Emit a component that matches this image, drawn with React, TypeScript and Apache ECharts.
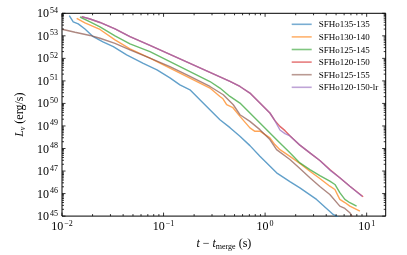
import React, { useEffect, useRef } from 'react';
import * as echarts from 'echarts';

const seriesNames = ['SFHo135-135', 'SFHo130-140', 'SFHo125-145', 'SFHo120-150', 'SFHo125-155', 'SFHo120-150-lr'];
const seriesColors = ['#1f77b4', '#ff7f0e', '#2ca02c', '#d62728', '#8c564b', '#9467bd'];

// [t - t_merge (s), L_nu (erg/s)]
const sfho135_135: [number, number][] = [
  [0.0118, 7.8e53], [0.0129, 4.2e53], [0.01445, 3.4e53], [0.01683, 2.0e53], [0.0203, 9.2e52],
  [0.0253, 5.4e52], [0.032, 3.3e52], [0.0433, 1.43e52], [0.0631, 6.0e51], [0.0861, 3.1e51],
  [0.1156, 1.37e51], [0.145, 6.7e50], [0.182, 4.0e50], [0.228, 1.46e50], [0.286, 5.3e49],
  [0.359, 1.9e49], [0.451, 8.4e48], [0.565, 3.47e48], [0.709, 1.34e48], [0.889, 4.5e47],
  [1.298, 8.3e46], [1.754, 3.4e46], [2.2, 1.8e46], [3.21, 5.5e45], [4.68, 1.19e45], [5.45, 8e44],
];
const sfho130_140: [number, number][] = [
  [0.01395, 6.0e53], [0.01683, 3.72e53], [0.02366, 1.92e53], [0.03325, 6.6e52], [0.0467, 2.63e52],
  [0.07345, 1.02e52], [0.1156, 3.68e51], [0.182, 1.33e51], [0.2864, 4.8e50], [0.359, 2.04e50],
  [0.3846, 1.61e50], [0.418, 8.75e49], [0.482, 6.46e49], [0.5653, 2.66e49], [0.7087, 8.2e48],
  [0.794, 5.8e48], [0.889, 5.9e48], [1.0, 4.1e48], [1.115, 2.94e48], [1.248, 1.49e48],
  [1.4, 8.9e47], [1.755, 4.5e47], [2.2, 2.15e47], [2.76, 9.8e46], [3.46, 4.66e46],
  [4.34, 2.12e46], [4.87, 1.52e46], [5.44, 5.5e45], [6.1, 4.0e45], [6.83, 2.77e45], [8.58, 1.66e45],
];
const sfho125_145: [number, number][] = [
  [0.01503, 6.85e53], [0.01888, 4.12e53], [0.02366, 2.48e53], [0.03325, 9.9e52], [0.0467, 4.39e52],
  [0.07345, 2.0e52], [0.1156, 7.2e51], [0.182, 2.6e51], [0.2864, 9.4e50], [0.359, 4.8e50],
  [0.4507, 2.04e50], [0.5653, 1.04e50], [0.7087, 3.76e49], [0.889, 1.36e49], [1.115, 4.9e48],
  [1.4, 1.77e48], [1.755, 6.4e47], [2.2, 2.3e47], [2.76, 1.16e47], [3.46, 6.3e46],
  [4.34, 3.54e46], [4.87, 2.53e46], [5.44, 1.1e46], [6.1, 5.5e45], [6.83, 3.92e45], [7.96, 2.77e45],
];
const sfho120_150: [number, number][] = [
  [0.01563, 7.08e53], [0.01888, 5.6e53], [0.02366, 3.92e53], [0.03325, 2.02e53], [0.0467, 9.23e52],
  [0.07345, 3.76e52], [0.1156, 1.5e52], [0.182, 6.0e51], [0.2864, 2.4e51], [0.4507, 9.6e50],
  [0.5653, 5.65e50], [0.7087, 2.88e50], [0.889, 1.04e50], [1.115, 3.76e49], [1.248, 1.72e49],
  [1.4, 9.6e48], [1.57, 6.2e48], [1.755, 3.72e48], [2.2, 1.41e48], [2.76, 6.4e47],
  [3.46, 2.92e47], [4.34, 1.16e47], [5.44, 5.0e46], [6.83, 2.12e46], [9.24, 7.2e45],
];
const sfho125_155: [number, number][] = [
  [0.01, 1.96e53], [0.01343, 1.44e53], [0.01888, 1.04e53], [0.02366, 7.8e52], [0.03325, 4.6e52],
  [0.0467, 2.38e52], [0.07345, 1.02e52], [0.1156, 4.34e51], [0.182, 1.57e51], [0.2864, 5.65e50],
  [0.3873, 2.43e50], [0.486, 8.75e49], [0.5653, 3.16e49], [0.7087, 1.6e49], [0.889, 6.86e48],
  [1.115, 2.48e48], [1.297, 8.9e47], [1.755, 3.23e47], [2.2, 1.29e47], [2.76, 5.0e46],
  [3.46, 2.06e46], [4.34, 9.1e45], [5.44, 2.77e45], [6.1, 2.19e45], [6.83, 1.41e45], [7.32, 8.7e44],
];
const sfho120_150_lr: [number, number][] = [
  [0.01563, 7.08e53], [0.01888, 5.6e53], [0.02366, 3.92e53], [0.03325, 2.02e53], [0.0467, 9.23e52],
  [0.07345, 3.76e52], [0.1156, 1.5e52], [0.182, 6.0e51], [0.2864, 2.4e51], [0.4507, 9.6e50],
  [0.5653, 5.65e50], [0.7087, 2.88e50], [0.889, 1.04e50], [1.115, 3.76e49], [1.248, 1.72e49],
  [1.4, 6.6e48], [1.57, 4.6e48], [1.755, 3.6e48], [2.2, 1.41e48], [2.76, 6.4e47],
  [3.46, 2.92e47], [4.34, 1.1e47], [5.44, 5.0e46], [6.83, 2.12e46], [9.0, 7.6e45],
];
const seriesData = [sfho135_135, sfho130_140, sfho125_145, sfho120_150, sfho125_155, sfho120_150_lr];

const X_MIN = 0.01;
const X_MAX = 15.4;
const Y_MIN = 1e45;
const Y_MAX = 1e54;
const xDecades = [-2, -1, 0, 1];
const yDecades = [45, 46, 47, 48, 49, 50, 51, 52, 53, 54];

const FONT = 'Liberation Serif';

function powLabel(v: number): string {
  const e = Math.log10(v);
  const r = Math.round(e);
  if (Math.abs(e - r) > 1e-6) return '';
  const s = r < 0 ? '\u2212' + -r : String(r);
  return `{b|10}{s|${s}}`;
}

const labelRich = {
  b: { fontSize: 12, fontFamily: FONT, color: '#000', lineHeight: 14 },
  s: { fontSize: 8, fontFamily: FONT, color: '#000', lineHeight: 6, verticalAlign: 'top', padding: [0, 0, 0, 1] },
};
const nameRich = {
  i: { fontSize: 12, fontFamily: FONT, fontStyle: 'italic', color: '#000', lineHeight: 14 },
  n: { fontSize: 12, fontFamily: FONT, color: '#000', lineHeight: 14 },
  sub: { fontSize: 8, fontFamily: FONT, color: '#000', lineHeight: 6, verticalAlign: 'bottom' },
  subi: { fontSize: 8, fontFamily: FONT, fontStyle: 'italic', color: '#000', lineHeight: 6, verticalAlign: 'bottom' },
};

export default function App() {
  const ref = useRef<HTMLDivElement>(null);
  useEffect(() => {
    const chart = echarts.init(ref.current!, null, { renderer: 'svg' });
    const tickData: number[][] = [];
    xDecades.forEach((d) => {
      for (let k = 1; k <= 9; k++) {
        const v = k * Math.pow(10, d);
        if (v >= X_MIN * 0.999 && v <= X_MAX) tickData.push([v, Y_MIN, k === 1 ? 1 : 0]);
      }
    });
    yDecades.forEach((d) => {
      for (let k = 1; k <= 9; k++) {
        const v = k * Math.pow(10, d);
        if (v <= Y_MAX * 1.001) tickData.push([X_MIN, v, k === 1 ? 3 : 2]);
      }
    });

    const lineSeries = seriesNames.map((name, i) => ({
      type: 'line',
      name,
      data: seriesData[i],
      symbol: 'none',
      showSymbol: false,
      silent: true,
      lineStyle: { width: 1.4, color: seriesColors[i], opacity: 0.7 },
      itemStyle: { color: seriesColors[i], opacity: 0.6 },
      z: 2,
    }));

    const option: any = {
      animation: false,
      grid: {
        left: 62, right: 21.3, top: 13.3, bottom: 38.3,
        show: true, borderColor: '#000', borderWidth: 1, backgroundColor: 'transparent',
      },
      legend: {
        data: seriesNames.map((n, i) => ({ name: n, icon: 'rect', itemStyle: { color: seriesColors[i], opacity: 0.6 } })),
        orient: 'vertical',
        left: 291.7,
        top: 19.3,
        padding: 0,
        itemGap: 2.6,
        itemWidth: 20,
        itemHeight: 1.6,
        textStyle: { fontFamily: FONT, fontSize: 9, color: '#000', lineHeight: 10, padding: [0, 0, 0, 2] },
      },
      xAxis: {
        type: 'log', logBase: 10, min: X_MIN, max: X_MAX,
        axisLine: { show: false }, axisTick: { show: false }, splitLine: { show: false },
        axisLabel: { formatter: powLabel, rich: labelRich, margin: 3 },
        name: '{i|t}{n| \u2212 }{i|t}{sub|merge}{n| (s)}',
        nameLocation: 'middle', nameGap: 18,
        nameTextStyle: { rich: nameRich, fontFamily: FONT },
      },
      yAxis: {
        type: 'log', logBase: 10, min: Y_MIN, max: Y_MAX,
        axisLine: { show: false }, axisTick: { show: false }, splitLine: { show: false },
        axisLabel: { formatter: powLabel, rich: labelRich, margin: 4 },
        name: '{i|L}{subi|\u03bd}{n| (erg/s)}',
        nameLocation: 'middle', nameGap: 35,
        nameTextStyle: { rich: nameRich, fontFamily: FONT },
      },
      series: [
        ...lineSeries,
        {
          type: 'custom',
          silent: true,
          z: 5,
          data: tickData,
          encode: { x: 0, y: 1 },
          renderItem: (params: any, api: any) => {
            const cs = params.coordSys;
            const kind = api.value(2);
            const len = kind % 2 === 1 ? 3.5 : 2;
            const style = { stroke: '#000', lineWidth: 0.8 };
            if (kind < 2) {
              const px = api.coord([api.value(0), Y_MIN])[0];
              return {
                type: 'group',
                children: [
                  { type: 'line', shape: { x1: px, y1: cs.y + cs.height, x2: px, y2: cs.y + cs.height - len }, style },
                  { type: 'line', shape: { x1: px, y1: cs.y, x2: px, y2: cs.y + len }, style },
                ],
              };
            }
            const py = api.coord([X_MIN, api.value(1)])[1];
            return {
              type: 'group',
              children: [
                { type: 'line', shape: { x1: cs.x, y1: py, x2: cs.x + len, y2: py }, style },
                { type: 'line', shape: { x1: cs.x + cs.width, y1: py, x2: cs.x + cs.width - len, y2: py }, style },
              ],
            };
          },
        },
      ],
    };
    chart.setOption(option);
    return () => chart.dispose();
  }, []);
  return <div ref={ref} style={{ position: 'fixed', left: 0, top: 0, width: 407, height: 255 }} />;
}
